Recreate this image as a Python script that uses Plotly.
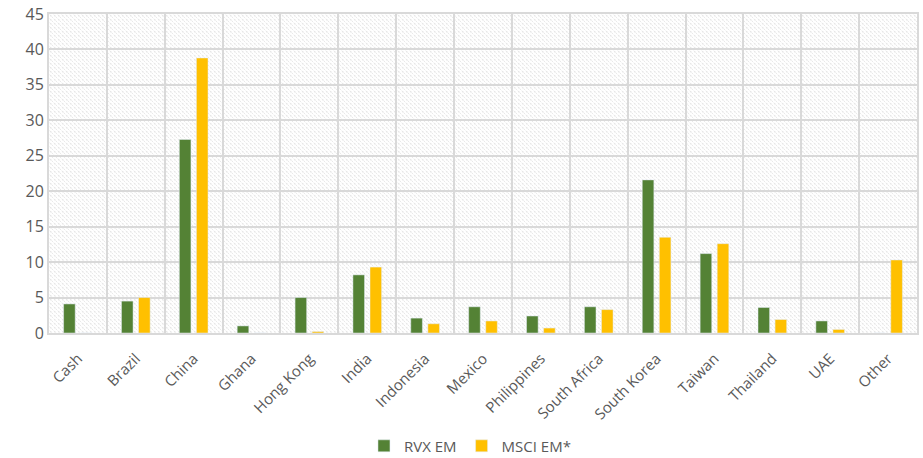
import plotly.graph_objects as go
import base64

categories = ["Cash", "Brazil", "China", "Ghana", "Hong Kong", "India", "Indonesia",
              "Mexico", "Philippines", "South Africa", "South Korea", "Taiwan",
              "Thailand", "UAE", "Other"]
rvx_em = [4.1, 4.5, 27.3, 1.0, 5.0, 8.2, 2.1, 3.7, 2.4, 3.7, 21.6, 11.2, 3.6, 1.7, 0.0]
msci_em = [0.0, 5.0, 38.8, 0.0, 0.2, 9.3, 1.3, 1.7, 0.7, 3.3, 13.5, 12.6, 1.9, 0.5, 10.3]
y_ticks = [0, 5, 10, 15, 20, 25, 30, 35, 40, 45]

GRID = "#d9d9d9"
TXT = "#595959"
FONT = "Open Sans, Liberation Sans, sans-serif"

# hatched background texture
svg = ('<svg xmlns="http://www.w3.org/2000/svg" width="868" height="319">'
       '<defs><pattern id="p" width="4" height="4" patternUnits="userSpaceOnUse">'
       '<rect width="4" height="4" fill="#ffffff"/>'
       '<path d="M-1,-1 L5,5" stroke="#e6e6e6" stroke-width="1.2" stroke-dasharray="2,1"/>'
       '</pattern></defs><rect width="868" height="319" fill="url(#p)"/></svg>')
src = "data:image/svg+xml;base64," + base64.b64encode(svg.encode()).decode()

fig = go.Figure()
fig.add_trace(go.Bar(x=categories, y=rvx_em, name="RVX EM", marker_color="#548235"))
fig.add_trace(go.Bar(x=categories, y=msci_em, name="MSCI EM*", marker_color="#ffc000"))

fig.update_layout(
    width=923, height=458,
    margin=dict(l=49, r=6, t=14, b=125, autoexpand=False),
    paper_bgcolor="white", plot_bgcolor="white",
    barmode="group", bargap=0.41, bargroupgap=0.32,
    font=dict(family=FONT, color=TXT),
    images=[dict(source=src, xref="paper", yref="paper", x=0, y=1, sizex=1, sizey=1,
                 sizing="stretch", layer="below", xanchor="left", yanchor="top")],
    legend=dict(orientation="h", x=0.485, xanchor="center", y=0.026, yanchor="middle",
                yref="container", font=dict(size=15, color=TXT), itemwidth=30,
                traceorder="normal"),
    xaxis=dict(type="category", tickson="boundaries", showgrid=True, gridcolor=GRID,
               gridwidth=2, tickangle=-45, ticks="", tickfont=dict(size=15, color=TXT),
               ticklabelstandoff=9,
               showline=True, linecolor=GRID, linewidth=2, mirror=True),
    yaxis=dict(range=[0, 45], tickvals=y_ticks, showgrid=True, gridcolor=GRID,
               gridwidth=2, zeroline=False, tickfont=dict(size=16, color=TXT),
               showline=True, linecolor=GRID, linewidth=2, mirror=True, ticklen=0),
)

fig.write_html("out.html")
